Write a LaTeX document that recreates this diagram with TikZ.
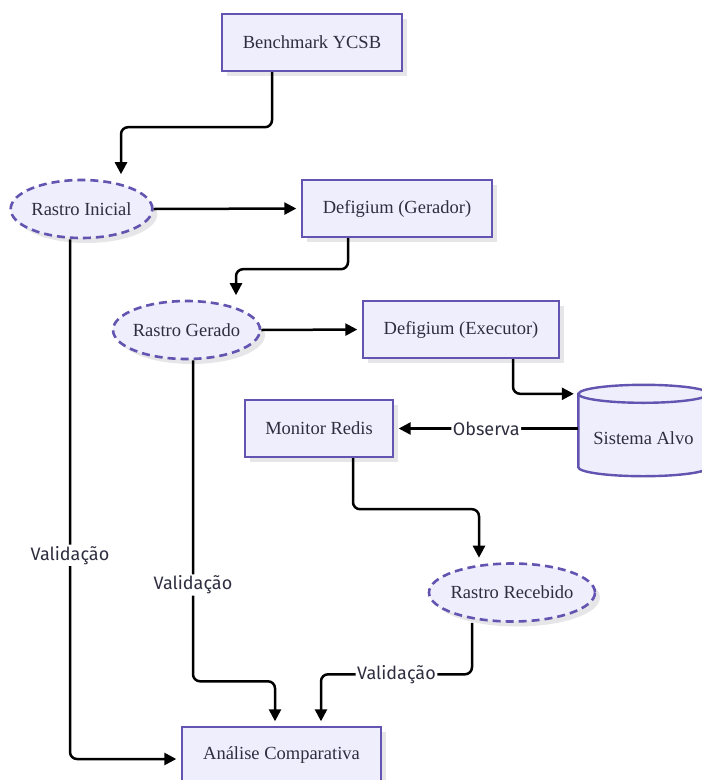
\documentclass[tikz,border=0pt]{standalone}
\usepackage{fontspec}
\setmainfont{Liberation Serif}
\newfontfamily\lblfont{Fira Sans}
\usetikzlibrary{arrows.meta,shapes.geometric,shadows}

\definecolor{nodefill}{RGB}{238,238,252}
\definecolor{nodeline}{RGB}{98,84,176}
\definecolor{inktext}{RGB}{46,46,64}
\definecolor{shade}{RGB}{230,230,232}

\begin{document}
\begin{tikzpicture}[x=1pt,y=-1pt,
  every node/.style={font=\fontsize{18.5}{22}\selectfont, text=inktext},
  softshadow/.style={drop shadow={shadow xshift=5pt,shadow yshift=-5pt,fill=shade,opacity=1}},
  procbox/.style={rectangle, draw=nodeline, fill=nodefill, line width=2.4pt, inner sep=0pt, softshadow},
  tracebox/.style={ellipse, draw=nodeline, fill=nodefill, line width=2.6pt, inner sep=0pt,
                   dash pattern=on 8pt off 5pt, softshadow},
  flow/.style={line width=2.5pt, rounded corners=7pt, -{Triangle[length=12pt,width=12pt]}, shorten >=4.5pt},
  lbl/.style={fill=white, inner sep=1.5pt, text=inktext, font=\lblfont\fontsize{18}{22}\selectfont}
]
\useasboundingbox (0,0) rectangle (702,780);

% process boxes
\node[procbox, minimum width=180pt, minimum height=57pt] (bench) at (312,42.5) {Benchmark YCSB};
\node[procbox, minimum width=190pt, minimum height=57pt] (ger) at (397,208.5) {Defigium (Gerador)};
\node[procbox, minimum width=196pt, minimum height=57pt] (exe) at (461,329.5) {Defigium (Executor)};
\node[procbox, minimum width=148pt, minimum height=57pt] (mon) at (319,428.5) {Monitor Redis};
\node[procbox, minimum width=199pt, minimum height=57pt] (ana) at (281.5,755.5) {Análise Comparativa};

% trace files
\node[tracebox, minimum width=141pt, minimum height=58pt] (ini) at (81.5,209) {Rastro Inicial};
\node[tracebox, inner xsep=-3pt, minimum width=147pt, minimum height=58pt] (gerado) at (186.5,330) {Rastro Gerado};
\node[tracebox, inner xsep=-3.3pt, minimum width=166pt, minimum height=58pt] (rec) at (512,592.5) {Rastro Recebido};

% target system drawn as a cylinder
\node[minimum width=130pt, minimum height=91pt, inner sep=0pt] (alvo) at (643.5,430.5) {};
\fill[shade] ([xshift=5pt,yshift=-14pt]alvo.north west) -- ([xshift=5pt,yshift=9pt]alvo.south west)
  arc[start angle=180,end angle=360,x radius=65pt,y radius=9pt]
  -- ([xshift=5pt,yshift=-14pt]alvo.north east)
  arc[start angle=0,end angle=180,x radius=65pt,y radius=9pt] -- cycle;
\filldraw[draw=nodeline, fill=nodefill, line width=2.4pt]
  ([yshift=-9pt]alvo.north west) -- ([yshift=9pt]alvo.south west)
  arc[start angle=180,end angle=360,x radius=65pt,y radius=9pt]
  -- ([yshift=-9pt]alvo.north east)
  arc[start angle=0,end angle=180,x radius=65pt,y radius=9pt] -- cycle;
\draw[draw=nodeline, line width=2.4pt] ([yshift=-9pt]alvo.north west)
  arc[start angle=180,end angle=360,x radius=65pt,y radius=9pt];
\node (alvotxt) at ([yshift=-7.5pt]alvo.center) {Sistema Alvo};

% connectors
\draw[flow] ([xshift=-40pt]bench.south) -- ++(0,55) -| ([xshift=39.5pt]ini.north);
\draw[flow] (ini.east) -- (ger.west);
\draw[flow] ([xshift=-49pt]ger.south) -- ++(0,31) -| ([xshift=49.5pt]gerado.north);
\draw[flow] (gerado.east) -- (exe.west);
\draw[flow] ([xshift=52pt]exe.south) |- ([yshift=-9pt]alvo.north west);
\draw[flow] (alvo.west |- mon.east) -- node[lbl]{Observa} (mon.east);
\draw[flow] ([xshift=34pt]mon.south) -- ++(0,51) -| ([xshift=-33pt]rec.north);
\draw[flow] ([xshift=-40pt]rec.south) -- ++(0,51.5) -| node[lbl,pos=0.25]{Validação} ([xshift=39.5pt]ana.north);
\draw[flow] ([xshift=6.5pt]gerado.south) -- node[lbl,pos=0.7]{Validação} ++(0,321) -| ([xshift=-6.5pt]ana.north);
\draw[flow] ([xshift=-11.5pt]ini.south) |- node[lbl,pos=0.304]{Validação} ([yshift=-3.5pt]ana.west);
\end{tikzpicture}
\end{document}
